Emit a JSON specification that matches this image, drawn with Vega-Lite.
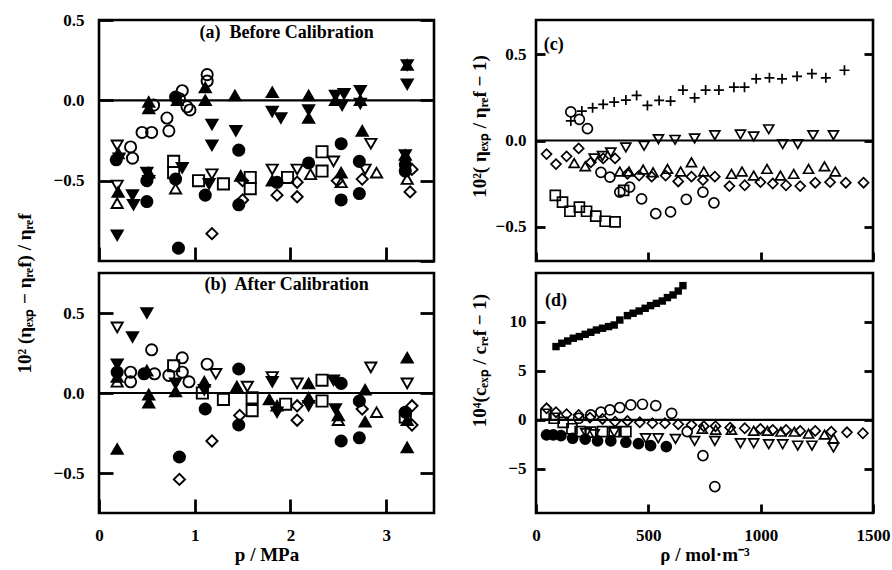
{
  "$schema": "https://vega.github.io/schema/vega-lite/v6.json",
  "background": "white",
  "padding": {"left": 13, "top": 9, "right": 5, "bottom": 5},
  "bounds": "flush",
  "columns": 2,
  "spacing": {"row": 12, "column": 102},
  "config": {
    "font": "Liberation Serif",
    "view": {"stroke": "black", "strokeWidth": 2.6},
    "axis": {
      "labelFont": "Liberation Serif", "labelFontWeight": "bold", "labelFontSize": 17, "labelColor": "black",
      "titleFont": "Liberation Serif", "titleFontWeight": "bold", "titleFontSize": 19, "titleColor": "black",
      "ticks": true, "tickColor": "black", "tickWidth": 2.8, "domain": false, "grid": false, "labelFlush": false
    },
    "text": {"font": "Liberation Serif", "fontWeight": "bold", "color": "black"}
  },
  "datasets": {
    "pts": [
      {"g":"a","x":0.19,"y":-0.28,"s":"od"},{"g":"a","x":0.2,"y":-0.33,"s":"fu"},{"g":"a","x":0.18,"y":-0.37,"s":"fc"},{"g":"a","x":0.21,"y":-0.36,"s":"fd"},
      {"g":"a","x":0.19,"y":-0.53,"s":"od"},{"g":"a","x":0.2,"y":-0.57,"s":"fu"},{"g":"a","x":0.19,"y":-0.64,"s":"ou"},{"g":"a","x":0.19,"y":-0.84,"s":"fd"},
      {"g":"a","x":0.33,"y":-0.29,"s":"oc"},{"g":"a","x":0.35,"y":-0.36,"s":"oc"},{"g":"a","x":0.35,"y":-0.59,"s":"fd"},{"g":"a","x":0.36,"y":-0.65,"s":"fd"},
      {"g":"a","x":0.45,"y":-0.2,"s":"oc"},{"g":"a","x":0.55,"y":-0.2,"s":"oc"},{"g":"a","x":0.52,"y":-0.01,"s":"fu"},{"g":"a","x":0.52,"y":-0.05,"s":"fu"},
      {"g":"a","x":0.57,"y":-0.03,"s":"oc"},{"g":"a","x":0.5,"y":-0.45,"s":"fd"},{"g":"a","x":0.52,"y":-0.45,"s":"fu"},{"g":"a","x":0.52,"y":-0.5,"s":"fd"},
      {"g":"a","x":0.5,"y":-0.5,"s":"fc"},{"g":"a","x":0.5,"y":-0.63,"s":"fc"},
      {"g":"a","x":0.71,"y":-0.11,"s":"oc"},{"g":"a","x":0.73,"y":-0.19,"s":"oc"},{"g":"a","x":0.78,"y":-0.38,"s":"os"},{"g":"a","x":0.78,"y":-0.45,"s":"os"},
      {"g":"a","x":0.87,"y":-0.42,"s":"fd"},{"g":"a","x":0.8,"y":-0.49,"s":"fc"},{"g":"a","x":0.8,"y":-0.55,"s":"ou"},{"g":"a","x":0.83,"y":-0.92,"s":"fc"},
      {"g":"a","x":0.87,"y":0.06,"s":"oc"},{"g":"a","x":0.84,"y":0.01,"s":"oc"},{"g":"a","x":0.82,"y":0.0,"s":"fu"},{"g":"a","x":0.8,"y":0.02,"s":"fc"},
      {"g":"a","x":0.92,"y":-0.04,"s":"oc"},{"g":"a","x":0.95,"y":-0.06,"s":"oc"},
      {"g":"a","x":1.04,"y":-0.5,"s":"os"},{"g":"a","x":1.18,"y":-0.46,"s":"od"},{"g":"a","x":1.11,"y":-0.59,"s":"fc"},{"g":"a","x":1.3,"y":-0.52,"s":"os"},
      {"g":"a","x":1.18,"y":-0.15,"s":"fd"},{"g":"a","x":1.18,"y":-0.28,"s":"fd"},{"g":"a","x":1.11,"y":0.0,"s":"fu"},{"g":"a","x":1.11,"y":0.08,"s":"fu"},
      {"g":"a","x":1.13,"y":0.16,"s":"oc"},{"g":"a","x":1.13,"y":0.12,"s":"oc"},{"g":"a","x":1.18,"y":-0.83,"s":"odm"},{"g":"a","x":1.15,"y":-0.52,"s":"fd"},
      {"g":"a","x":1.42,"y":0.03,"s":"fu"},{"g":"a","x":1.43,"y":-0.19,"s":"fd"},{"g":"a","x":1.46,"y":-0.31,"s":"fc"},{"g":"a","x":1.46,"y":-0.65,"s":"fc"},
      {"g":"a","x":1.5,"y":-0.62,"s":"odm"},{"g":"a","x":1.58,"y":-0.48,"s":"os"},{"g":"a","x":1.58,"y":-0.55,"s":"os"},{"g":"a","x":1.5,"y":-0.5,"s":"odm"},
      {"g":"a","x":1.48,"y":-0.47,"s":"fu"},
      {"g":"a","x":1.81,"y":0.05,"s":"fu"},{"g":"a","x":1.81,"y":-0.07,"s":"fd"},{"g":"a","x":1.9,"y":-0.11,"s":"fd"},{"g":"a","x":1.81,"y":-0.43,"s":"od"},
      {"g":"a","x":1.81,"y":-0.5,"s":"fu"},{"g":"a","x":1.86,"y":-0.59,"s":"odm"},{"g":"a","x":1.86,"y":-0.51,"s":"fc"},{"g":"a","x":1.97,"y":-0.48,"s":"os"},
      {"g":"a","x":2.07,"y":-0.43,"s":"od"},{"g":"a","x":2.07,"y":-0.51,"s":"odm"},{"g":"a","x":2.07,"y":-0.6,"s":"odm"},{"g":"a","x":2.19,"y":0.03,"s":"fu"},
      {"g":"a","x":2.19,"y":-0.06,"s":"fd"},{"g":"a","x":2.19,"y":-0.11,"s":"fu"},{"g":"a","x":2.19,"y":-0.39,"s":"fc"},{"g":"a","x":2.21,"y":-0.46,"s":"ou"},
      {"g":"a","x":2.33,"y":-0.32,"s":"os"},{"g":"a","x":2.33,"y":-0.44,"s":"os"},{"g":"a","x":2.45,"y":-0.38,"s":"od"},
      {"g":"a","x":2.47,"y":0.03,"s":"fd"},{"g":"a","x":2.56,"y":0.04,"s":"fd"},{"g":"a","x":2.47,"y":0.0,"s":"fu"},{"g":"a","x":2.54,"y":-0.03,"s":"fd"},
      {"g":"a","x":2.53,"y":-0.27,"s":"fc"},{"g":"a","x":2.53,"y":-0.45,"s":"fu"},{"g":"a","x":2.53,"y":-0.51,"s":"ou"},{"g":"a","x":2.49,"y":-0.5,"s":"odm"},
      {"g":"a","x":2.53,"y":-0.62,"s":"fc"},
      {"g":"a","x":2.73,"y":0.06,"s":"fd"},{"g":"a","x":2.73,"y":0.0,"s":"fu"},{"g":"a","x":2.73,"y":-0.02,"s":"fd"},{"g":"a","x":2.75,"y":-0.19,"s":"fu"},
      {"g":"a","x":2.84,"y":-0.27,"s":"od"},{"g":"a","x":2.72,"y":-0.38,"s":"fc"},{"g":"a","x":2.78,"y":-0.43,"s":"od"},{"g":"a","x":2.9,"y":-0.45,"s":"ou"},
      {"g":"a","x":2.75,"y":-0.49,"s":"odm"},{"g":"a","x":2.72,"y":-0.58,"s":"fc"},
      {"g":"a","x":3.22,"y":0.22,"s":"fu"},{"g":"a","x":3.22,"y":0.22,"s":"fd"},{"g":"a","x":3.22,"y":0.1,"s":"fd"},{"g":"a","x":3.2,"y":-0.34,"s":"fu"},
      {"g":"a","x":3.2,"y":-0.34,"s":"fd"},{"g":"a","x":3.2,"y":-0.4,"s":"fc"},{"g":"a","x":3.2,"y":-0.44,"s":"fc"},{"g":"a","x":3.22,"y":-0.49,"s":"ou"},
      {"g":"a","x":3.25,"y":-0.57,"s":"odm"},{"g":"a","x":3.27,"y":-0.43,"s":"odm"},

      {"g":"b","x":0.19,"y":0.41,"s":"od"},{"g":"b","x":0.35,"y":0.35,"s":"fd"},{"g":"b","x":0.5,"y":0.5,"s":"fd"},{"g":"b","x":0.55,"y":0.27,"s":"oc"},
      {"g":"b","x":0.19,"y":0.18,"s":"fd"},{"g":"b","x":0.19,"y":0.13,"s":"fc"},{"g":"b","x":0.19,"y":0.1,"s":"fu"},{"g":"b","x":0.19,"y":0.07,"s":"ou"},
      {"g":"b","x":0.33,"y":0.13,"s":"oc"},{"g":"b","x":0.33,"y":0.07,"s":"oc"},{"g":"b","x":0.19,"y":-0.35,"s":"fu"},
      {"g":"b","x":0.47,"y":0.12,"s":"fc"},{"g":"b","x":0.5,"y":0.14,"s":"fu"},{"g":"b","x":0.58,"y":0.12,"s":"oc"},{"g":"b","x":0.52,"y":-0.01,"s":"fu"},
      {"g":"b","x":0.52,"y":-0.06,"s":"fu"},
      {"g":"b","x":0.73,"y":0.11,"s":"oc"},{"g":"b","x":0.78,"y":0.17,"s":"os"},{"g":"b","x":0.87,"y":0.22,"s":"oc"},{"g":"b","x":0.87,"y":0.13,"s":"oc"},
      {"g":"b","x":0.94,"y":0.07,"s":"oc"},{"g":"b","x":0.8,"y":0.06,"s":"fd"},{"g":"b","x":0.8,"y":0.01,"s":"fu"},{"g":"b","x":0.84,"y":-0.4,"s":"fc"},
      {"g":"b","x":0.84,"y":-0.54,"s":"odm"},
      {"g":"b","x":1.13,"y":0.18,"s":"oc"},{"g":"b","x":1.22,"y":0.12,"s":"od"},{"g":"b","x":1.1,"y":0.07,"s":"fu"},{"g":"b","x":1.1,"y":0.02,"s":"fd"},
      {"g":"b","x":1.3,"y":-0.04,"s":"os"},{"g":"b","x":1.08,"y":0.0,"s":"os"},{"g":"b","x":1.11,"y":-0.1,"s":"fc"},{"g":"b","x":1.18,"y":-0.3,"s":"odm"},
      {"g":"b","x":1.46,"y":0.15,"s":"fc"},{"g":"b","x":1.44,"y":0.04,"s":"fu"},{"g":"b","x":1.55,"y":0.04,"s":"od"},{"g":"b","x":1.47,"y":-0.14,"s":"odm"},
      {"g":"b","x":1.46,"y":-0.2,"s":"fc"},{"g":"b","x":1.6,"y":-0.11,"s":"os"},{"g":"b","x":1.6,"y":-0.03,"s":"os"},
      {"g":"b","x":1.81,"y":0.1,"s":"od"},{"g":"b","x":1.81,"y":0.07,"s":"fd"},{"g":"b","x":1.78,"y":-0.04,"s":"fu"},{"g":"b","x":1.86,"y":-0.08,"s":"fu"},
      {"g":"b","x":1.86,"y":-0.12,"s":"fd"},{"g":"b","x":1.95,"y":-0.07,"s":"os"},
      {"g":"b","x":2.07,"y":0.06,"s":"od"},{"g":"b","x":2.07,"y":-0.08,"s":"odm"},{"g":"b","x":2.07,"y":-0.17,"s":"odm"},{"g":"b","x":2.19,"y":0.06,"s":"fu"},
      {"g":"b","x":2.19,"y":-0.03,"s":"fu"},{"g":"b","x":2.19,"y":-0.08,"s":"fd"},{"g":"b","x":2.33,"y":0.08,"s":"os"},{"g":"b","x":2.33,"y":-0.05,"s":"os"},
      {"g":"b","x":2.45,"y":0.08,"s":"fd"},{"g":"b","x":2.53,"y":0.06,"s":"fc"},{"g":"b","x":2.47,"y":-0.1,"s":"fd"},{"g":"b","x":2.5,"y":-0.14,"s":"fu"},
      {"g":"b","x":2.5,"y":-0.17,"s":"ou"},{"g":"b","x":2.53,"y":-0.3,"s":"fc"},
      {"g":"b","x":2.72,"y":-0.28,"s":"fc"},{"g":"b","x":2.84,"y":0.16,"s":"od"},{"g":"b","x":2.78,"y":0.02,"s":"fu"},{"g":"b","x":2.72,"y":-0.05,"s":"fc"},
      {"g":"b","x":2.78,"y":-0.18,"s":"fu"},{"g":"b","x":2.9,"y":-0.12,"s":"ou"},{"g":"b","x":2.75,"y":-0.1,"s":"odm"},
      {"g":"b","x":3.22,"y":0.22,"s":"fu"},{"g":"b","x":3.22,"y":0.06,"s":"od"},{"g":"b","x":3.27,"y":-0.08,"s":"odm"},{"g":"b","x":3.2,"y":-0.12,"s":"fc"},
      {"g":"b","x":3.2,"y":-0.15,"s":"os"},{"g":"b","x":3.27,"y":-0.2,"s":"odm"},{"g":"b","x":3.22,"y":-0.17,"s":"fu"},{"g":"b","x":3.22,"y":-0.34,"s":"fu"},

      {"g":"c","x":155,"y":0.114,"s":"pl"},{"g":"c","x":204,"y":0.171,"s":"pl"},{"g":"c","x":252,"y":0.19,"s":"pl"},{"g":"c","x":299,"y":0.21,"s":"pl"},
      {"g":"c","x":348,"y":0.223,"s":"pl"},{"g":"c","x":400,"y":0.235,"s":"pl"},{"g":"c","x":448,"y":0.262,"s":"pl"},{"g":"c","x":496,"y":0.204,"s":"pl"},
      {"g":"c","x":548,"y":0.233,"s":"pl"},{"g":"c","x":599,"y":0.229,"s":"pl"},{"g":"c","x":654,"y":0.293,"s":"pl"},{"g":"c","x":706,"y":0.248,"s":"pl"},
      {"g":"c","x":755,"y":0.293,"s":"pl"},{"g":"c","x":814,"y":0.293,"s":"pl"},{"g":"c","x":881,"y":0.31,"s":"pl"},{"g":"c","x":928,"y":0.31,"s":"pl"},
      {"g":"c","x":980,"y":0.358,"s":"pl"},{"g":"c","x":1039,"y":0.364,"s":"pl"},{"g":"c","x":1095,"y":0.358,"s":"pl"},{"g":"c","x":1162,"y":0.373,"s":"pl"},
      {"g":"c","x":1228,"y":0.388,"s":"pl"},{"g":"c","x":1290,"y":0.364,"s":"pl"},{"g":"c","x":1373,"y":0.408,"s":"pl"},
      {"g":"c","x":155,"y":0.166,"s":"oc"},{"g":"c","x":193,"y":0.123,"s":"oc"},{"g":"c","x":229,"y":0.069,"s":"oc"},{"g":"c","x":289,"y":-0.185,"s":"oc"},
      {"g":"c","x":329,"y":-0.213,"s":"oc"},{"g":"c","x":373,"y":-0.3,"s":"oc"},{"g":"c","x":417,"y":-0.271,"s":"oc"},{"g":"c","x":470,"y":-0.339,"s":"oc"},
      {"g":"c","x":533,"y":-0.425,"s":"oc"},{"g":"c","x":599,"y":-0.415,"s":"oc"},{"g":"c","x":669,"y":-0.342,"s":"oc"},{"g":"c","x":743,"y":-0.3,"s":"oc"},
      {"g":"c","x":792,"y":-0.362,"s":"oc"},
      {"g":"c","x":86,"y":-0.319,"s":"os"},{"g":"c","x":118,"y":-0.358,"s":"os"},{"g":"c","x":151,"y":-0.411,"s":"os"},{"g":"c","x":193,"y":-0.387,"s":"os"},
      {"g":"c","x":225,"y":-0.411,"s":"os"},{"g":"c","x":266,"y":-0.439,"s":"os"},{"g":"c","x":308,"y":-0.469,"s":"os"},{"g":"c","x":352,"y":-0.473,"s":"os"},
      {"g":"c","x":390,"y":-0.29,"s":"os"},
      {"g":"c","x":259,"y":-0.104,"s":"od"},{"g":"c","x":296,"y":-0.09,"s":"od"},{"g":"c","x":333,"y":-0.069,"s":"od"},{"g":"c","x":400,"y":-0.04,"s":"od"},
      {"g":"c","x":481,"y":-0.031,"s":"od"},{"g":"c","x":545,"y":0.008,"s":"od"},{"g":"c","x":619,"y":0.004,"s":"od"},{"g":"c","x":706,"y":0.012,"s":"od"},
      {"g":"c","x":796,"y":0.031,"s":"od"},{"g":"c","x":910,"y":0.035,"s":"od"},{"g":"c","x":969,"y":0.023,"s":"od"},{"g":"c","x":1036,"y":0.065,"s":"od"},
      {"g":"c","x":1098,"y":-0.021,"s":"od"},{"g":"c","x":1165,"y":-0.021,"s":"od"},{"g":"c","x":1233,"y":0.031,"s":"od"},{"g":"c","x":1324,"y":0.031,"s":"od"},
      {"g":"c","x":170,"y":-0.131,"s":"ou"},{"g":"c","x":219,"y":-0.15,"s":"ou"},{"g":"c","x":373,"y":-0.18,"s":"ou"},{"g":"c","x":414,"y":-0.18,"s":"ou"},
      {"g":"c","x":477,"y":-0.169,"s":"ou"},{"g":"c","x":521,"y":-0.185,"s":"ou"},{"g":"c","x":585,"y":-0.165,"s":"ou"},{"g":"c","x":644,"y":-0.18,"s":"ou"},
      {"g":"c","x":692,"y":-0.127,"s":"ou"},{"g":"c","x":747,"y":-0.18,"s":"ou"},{"g":"c","x":870,"y":-0.194,"s":"ou"},{"g":"c","x":917,"y":-0.18,"s":"ou"},
      {"g":"c","x":969,"y":-0.204,"s":"ou"},{"g":"c","x":1028,"y":-0.165,"s":"ou"},{"g":"c","x":1088,"y":-0.204,"s":"ou"},{"g":"c","x":1147,"y":-0.194,"s":"ou"},
      {"g":"c","x":1213,"y":-0.165,"s":"ou"},{"g":"c","x":1284,"y":-0.15,"s":"ou"},{"g":"c","x":1332,"y":-0.18,"s":"ou"},
      {"g":"c","x":47,"y":-0.079,"s":"odm"},{"g":"c","x":89,"y":-0.137,"s":"odm"},{"g":"c","x":136,"y":-0.092,"s":"odm"},{"g":"c","x":190,"y":-0.046,"s":"odm"},
      {"g":"c","x":244,"y":-0.127,"s":"odm"},{"g":"c","x":299,"y":-0.104,"s":"odm"},{"g":"c","x":352,"y":-0.104,"s":"odm"},{"g":"c","x":407,"y":-0.194,"s":"odm"},
      {"g":"c","x":459,"y":-0.204,"s":"odm"},{"g":"c","x":515,"y":-0.21,"s":"odm"},{"g":"c","x":577,"y":-0.204,"s":"odm"},{"g":"c","x":633,"y":-0.238,"s":"odm"},
      {"g":"c","x":692,"y":-0.21,"s":"odm"},{"g":"c","x":743,"y":-0.23,"s":"odm"},{"g":"c","x":796,"y":-0.21,"s":"odm"},{"g":"c","x":861,"y":-0.265,"s":"odm"},
      {"g":"c","x":929,"y":-0.26,"s":"odm"},{"g":"c","x":999,"y":-0.242,"s":"odm"},{"g":"c","x":1054,"y":-0.25,"s":"odm"},{"g":"c","x":1113,"y":-0.26,"s":"odm"},
      {"g":"c","x":1176,"y":-0.265,"s":"odm"},{"g":"c","x":1243,"y":-0.245,"s":"odm"},{"g":"c","x":1309,"y":-0.242,"s":"odm"},{"g":"c","x":1379,"y":-0.245,"s":"odm"},
      {"g":"c","x":1458,"y":-0.245,"s":"odm"},

      {"g":"d","x":89,"y":7.49,"s":"fs"},{"g":"d","x":115,"y":7.83,"s":"fs"},{"g":"d","x":141,"y":8.06,"s":"fs"},{"g":"d","x":166,"y":8.34,"s":"fs"},
      {"g":"d","x":193,"y":8.51,"s":"fs"},{"g":"d","x":219,"y":8.74,"s":"fs"},{"g":"d","x":244,"y":8.95,"s":"fs"},{"g":"d","x":269,"y":9.18,"s":"fs"},
      {"g":"d","x":296,"y":9.36,"s":"fs"},{"g":"d","x":323,"y":9.53,"s":"fs"},{"g":"d","x":348,"y":9.69,"s":"fs"},{"g":"d","x":373,"y":10.2,"s":"fs"},
      {"g":"d","x":407,"y":10.65,"s":"fs"},{"g":"d","x":432,"y":10.89,"s":"fs"},{"g":"d","x":459,"y":11.12,"s":"fs"},{"g":"d","x":486,"y":11.4,"s":"fs"},
      {"g":"d","x":510,"y":11.67,"s":"fs"},{"g":"d","x":536,"y":11.9,"s":"fs"},{"g":"d","x":562,"y":12.14,"s":"fs"},{"g":"d","x":585,"y":12.49,"s":"fs"},
      {"g":"d","x":610,"y":12.76,"s":"fs"},{"g":"d","x":633,"y":13.16,"s":"fs"},{"g":"d","x":654,"y":13.71,"s":"fs"},
      {"g":"d","x":47,"y":-1.53,"s":"fc"},{"g":"d","x":77,"y":-1.53,"s":"fc"},{"g":"d","x":111,"y":-1.6,"s":"fc"},{"g":"d","x":163,"y":-1.87,"s":"fc"},
      {"g":"d","x":219,"y":-1.97,"s":"fc"},{"g":"d","x":274,"y":-2.14,"s":"fc"},{"g":"d","x":333,"y":-2.14,"s":"fc"},{"g":"d","x":400,"y":-2.28,"s":"fc"},
      {"g":"d","x":456,"y":-2.41,"s":"fc"},{"g":"d","x":510,"y":-2.62,"s":"fc"},{"g":"d","x":580,"y":-2.72,"s":"fc"},
      {"g":"d","x":190,"y":0.17,"s":"oc"},{"g":"d","x":244,"y":0.51,"s":"oc"},{"g":"d","x":289,"y":0.79,"s":"oc"},{"g":"d","x":329,"y":1.02,"s":"oc"},
      {"g":"d","x":373,"y":1.26,"s":"oc"},{"g":"d","x":422,"y":1.53,"s":"oc"},{"g":"d","x":474,"y":1.6,"s":"oc"},{"g":"d","x":533,"y":1.47,"s":"oc"},
      {"g":"d","x":604,"y":0.68,"s":"oc"},{"g":"d","x":673,"y":-1.19,"s":"oc"},{"g":"d","x":743,"y":-3.64,"s":"oc"},{"g":"d","x":796,"y":-6.8,"s":"oc"},
      {"g":"d","x":47,"y":1.19,"s":"odm"},{"g":"d","x":89,"y":0.79,"s":"odm"},{"g":"d","x":136,"y":0.58,"s":"odm"},{"g":"d","x":190,"y":0.51,"s":"odm"},
      {"g":"d","x":240,"y":0.24,"s":"odm"},{"g":"d","x":296,"y":0.1,"s":"odm"},{"g":"d","x":352,"y":-0.17,"s":"odm"},{"g":"d","x":407,"y":-0.1,"s":"odm"},
      {"g":"d","x":462,"y":-0.24,"s":"odm"},{"g":"d","x":518,"y":-0.34,"s":"odm"},{"g":"d","x":574,"y":-0.34,"s":"odm"},{"g":"d","x":633,"y":-0.44,"s":"odm"},
      {"g":"d","x":692,"y":-0.5,"s":"odm"},{"g":"d","x":747,"y":-0.64,"s":"odm"},{"g":"d","x":799,"y":-0.64,"s":"odm"},{"g":"d","x":864,"y":-0.78,"s":"odm"},
      {"g":"d","x":929,"y":-0.85,"s":"odm"},{"g":"d","x":999,"y":-0.92,"s":"odm"},{"g":"d","x":1054,"y":-1.02,"s":"odm"},{"g":"d","x":1113,"y":-1.02,"s":"odm"},
      {"g":"d","x":1176,"y":-1.12,"s":"odm"},{"g":"d","x":1243,"y":-1.12,"s":"odm"},{"g":"d","x":1314,"y":-1.19,"s":"odm"},{"g":"d","x":1384,"y":-1.26,"s":"odm"},
      {"g":"d","x":1455,"y":-1.36,"s":"odm"},
      {"g":"d","x":222,"y":-1.36,"s":"od"},{"g":"d","x":259,"y":-1.46,"s":"od"},{"g":"d","x":348,"y":-1.26,"s":"od"},{"g":"d","x":488,"y":-1.87,"s":"od"},
      {"g":"d","x":544,"y":-1.87,"s":"od"},{"g":"d","x":621,"y":-1.94,"s":"od"},{"g":"d","x":706,"y":-2.14,"s":"od"},{"g":"d","x":796,"y":-2.14,"s":"od"},
      {"g":"d","x":910,"y":-2.38,"s":"od"},{"g":"d","x":969,"y":-2.38,"s":"od"},{"g":"d","x":1036,"y":-2.48,"s":"od"},{"g":"d","x":1098,"y":-2.48,"s":"od"},
      {"g":"d","x":1165,"y":-2.62,"s":"od"},{"g":"d","x":1228,"y":-2.62,"s":"od"},{"g":"d","x":1324,"y":-2.82,"s":"od"},
      {"g":"d","x":44,"y":0.58,"s":"os"},{"g":"d","x":81,"y":0.17,"s":"os"},{"g":"d","x":121,"y":-0.24,"s":"os"},{"g":"d","x":160,"y":-0.9,"s":"os"},
      {"g":"d","x":197,"y":-1.19,"s":"os"},{"g":"d","x":244,"y":-1.25,"s":"os"},{"g":"d","x":296,"y":-1.2,"s":"os"},{"g":"d","x":348,"y":-1.2,"s":"os"},
      {"g":"d","x":400,"y":-1.2,"s":"os"},
      {"g":"d","x":740,"y":-0.9,"s":"ou"},{"g":"d","x":800,"y":-1.0,"s":"ou"},{"g":"d","x":870,"y":-1.0,"s":"ou"},{"g":"d","x":969,"y":-1.1,"s":"ou"},
      {"g":"d","x":1030,"y":-1.1,"s":"ou"},{"g":"d","x":1090,"y":-1.2,"s":"ou"},{"g":"d","x":1150,"y":-1.2,"s":"ou"},{"g":"d","x":1213,"y":-1.4,"s":"ou"},
      {"g":"d","x":1284,"y":-1.5,"s":"ou"},{"g":"d","x":1324,"y":-1.9,"s":"ou"}
    ]
  },
  "concat": [
    {
      "width": 335, "height": 241,
      "layer": [
        {
          "data": {"values": [{}]},
          "mark": {"type": "rule", "color": "black", "strokeWidth": 2.2},
          "encoding": {
            "y": {"datum": 0, "type": "quantitative", "scale": {"domain": [-1, 0.5], "nice": false, "zero": false},
                  "axis": {"orient": "right", "values": [-1, -0.5, 0, 0.5], "labels": false, "title": null, "offset": -14, "tickSize": 14}}
          }
        },
        {
          "data": {"name": "pts"},
          "transform": [{"filter": "datum.g == 'a'"}],
          "mark": {"type": "point", "filled": true, "opacity": 1, "size": 125, "strokeWidth": 1.9},
          "encoding": {
            "x": {"field": "x", "type": "quantitative", "scale": {"domain": [0, 3.5], "nice": false, "zero": false},
                  "axis": {"values": [0, 1, 2, 3], "labels": false, "title": null, "offset": -14, "tickSize": 14}},
            "y": {"field": "y", "type": "quantitative", "scale": {"domain": [-1, 0.5], "nice": false, "zero": false},
                  "axis": {"values": [-0.5, 0, 0.5], "format": ".1f", "offset": -14, "tickSize": 14, "labelPadding": 15,
                           "title": "10² (ηₑₓₚ − ηᵣₑf) / ηᵣₑf", "titleX": -89, "titleY": 273, "titleAngle": -90, "titleBaseline": "middle", "titleAlign": "center"}},
            "shape": {"field": "s", "type": "nominal", "legend": null,
                      "scale": {"domain": ["fc","oc","fu","ou","fd","od","os","odm","fs","pl"],
                                "range": ["circle","circle","triangle-up","triangle-up","triangle-down","triangle-down","square","diamond","square","M-1,0H1M0,-1V1"]}},
            "fill": {"field": "s", "type": "nominal", "legend": null,
                     "scale": {"domain": ["fc","oc","fu","ou","fd","od","os","odm","fs","pl"],
                               "range": ["black","transparent","black","transparent","black","transparent","transparent","transparent","black","transparent"]}},
            "stroke": {"value": "black"}
          }
        },
        {
          "data": {"values": [{}]},
          "mark": {"type": "text", "fontSize": 18, "align": "center", "baseline": "middle"},
          "encoding": {
            "x": {"datum": 1.96, "type": "quantitative"},
            "y": {"datum": 0.416, "type": "quantitative", "axis": null},
            "text": {"value": "(a)\u00a0 Before Calibration"}
          }
        }
      ],
      "resolve": {"axis": {"y": "independent"}}
    },
    {
      "width": 337, "height": 241,
      "layer": [
        {
          "data": {"values": [{}]},
          "mark": {"type": "rule", "color": "black", "strokeWidth": 2.2},
          "encoding": {
            "y": {"datum": 0, "type": "quantitative", "scale": {"domain": [-0.7, 0.7], "nice": false, "zero": false},
                  "axis": {"orient": "right", "values": [-0.5, 0, 0.5], "labels": false, "title": null, "offset": -9, "tickSize": 9}}
          }
        },
        {
          "data": {"name": "pts"},
          "transform": [{"filter": "datum.g == 'c'"}],
          "mark": {"type": "point", "filled": true, "opacity": 1, "size": 100, "strokeWidth": 1.7},
          "encoding": {
            "x": {"field": "x", "type": "quantitative", "scale": {"domain": [0, 1500], "nice": false, "zero": false},
                  "axis": {"values": [0, 500, 1000, 1500], "labels": false, "title": null, "offset": -9, "tickSize": 9}},
            "y": {"field": "y", "type": "quantitative", "scale": {"domain": [-0.7, 0.7], "nice": false, "zero": false},
                  "axis": {"values": [-0.5, 0, 0.5], "format": ".1f", "offset": -9, "tickSize": 9, "labelPadding": 10,
                           "title": "10²( ηₑₓₚ / ηᵣₑf − 1)", "titleX": -66, "titleY": 106, "titleAngle": -90, "titleBaseline": "middle", "titleAlign": "center"}},
            "shape": {"field": "s", "type": "nominal", "legend": null,
                      "scale": {"domain": ["fc","oc","fu","ou","fd","od","os","odm","fs","pl"],
                                "range": ["circle","circle","triangle-up","triangle-up","triangle-down","triangle-down","square","diamond","square","M-1,0H1M0,-1V1"]}},
            "fill": {"field": "s", "type": "nominal", "legend": null,
                     "scale": {"domain": ["fc","oc","fu","ou","fd","od","os","odm","fs","pl"],
                               "range": ["black","transparent","black","transparent","black","transparent","transparent","transparent","black","transparent"]}},
            "stroke": {"value": "black"}
          }
        },
        {
          "data": {"values": [{}]},
          "mark": {"type": "text", "fontSize": 18, "align": "left", "baseline": "middle"},
          "encoding": {
            "x": {"datum": 35, "type": "quantitative"},
            "y": {"datum": 0.556, "type": "quantitative", "axis": null},
            "text": {"value": "(c)"}
          }
        }
      ],
      "resolve": {"axis": {"y": "independent"}}
    },
    {
      "width": 335, "height": 240,
      "layer": [
        {
          "data": {"values": [{}]},
          "mark": {"type": "rule", "color": "black", "strokeWidth": 2.2},
          "encoding": {
            "y": {"datum": 0, "type": "quantitative", "scale": {"domain": [-0.75, 0.75], "nice": false, "zero": false},
                  "axis": {"orient": "right", "values": [-0.5, 0, 0.5], "labels": false, "title": null, "offset": -14, "tickSize": 14}}
          }
        },
        {
          "data": {"name": "pts"},
          "transform": [{"filter": "datum.g == 'b'"}],
          "mark": {"type": "point", "filled": true, "opacity": 1, "size": 125, "strokeWidth": 1.9},
          "encoding": {
            "x": {"field": "x", "type": "quantitative", "scale": {"domain": [0, 3.5], "nice": false, "zero": false},
                  "axis": {"values": [0, 1, 2, 3], "format": "d", "offset": -14, "tickSize": 14, "labelPadding": 14, "title": "p / MPa", "titlePadding": 2}},
            "y": {"field": "y", "type": "quantitative", "scale": {"domain": [-0.75, 0.75], "nice": false, "zero": false},
                  "axis": {"values": [-0.5, 0, 0.5], "format": ".1f", "offset": -14, "tickSize": 14, "labelPadding": 15, "title": null}},
            "shape": {"field": "s", "type": "nominal", "legend": null,
                      "scale": {"domain": ["fc","oc","fu","ou","fd","od","os","odm","fs","pl"],
                                "range": ["circle","circle","triangle-up","triangle-up","triangle-down","triangle-down","square","diamond","square","M-1,0H1M0,-1V1"]}},
            "fill": {"field": "s", "type": "nominal", "legend": null,
                     "scale": {"domain": ["fc","oc","fu","ou","fd","od","os","odm","fs","pl"],
                               "range": ["black","transparent","black","transparent","black","transparent","transparent","transparent","black","transparent"]}},
            "stroke": {"value": "black"}
          }
        },
        {
          "data": {"values": [{}]},
          "mark": {"type": "text", "fontSize": 18, "align": "center", "baseline": "middle"},
          "encoding": {
            "x": {"datum": 1.96, "type": "quantitative"},
            "y": {"datum": 0.675, "type": "quantitative", "axis": null},
            "text": {"value": "(b)\u00a0 After Calibration"}
          }
        }
      ],
      "resolve": {"axis": {"y": "independent"}}
    },
    {
      "width": 337, "height": 240,
      "layer": [
        {
          "data": {"values": [{}]},
          "mark": {"type": "rule", "color": "black", "strokeWidth": 2.2},
          "encoding": {
            "y": {"datum": 0, "type": "quantitative", "scale": {"domain": [-9.5, 15], "nice": false, "zero": false},
                  "axis": {"orient": "right", "values": [-5, 0, 5, 10], "labels": false, "title": null, "offset": -9, "tickSize": 9}}
          }
        },
        {
          "data": {"name": "pts"},
          "transform": [{"filter": "datum.g == 'd' && datum.s != 'fs'"}],
          "mark": {"type": "point", "filled": true, "opacity": 1, "size": 100, "strokeWidth": 1.7},
          "encoding": {
            "x": {"field": "x", "type": "quantitative", "scale": {"domain": [0, 1500], "nice": false, "zero": false},
                  "axis": {"values": [0, 500, 1000, 1500], "format": "d", "offset": -9, "tickSize": 9, "labelPadding": 14, "title": "ρ / mol·m⁻³", "titlePadding": 2}},
            "y": {"field": "y", "type": "quantitative", "scale": {"domain": [-9.5, 15], "nice": false, "zero": false},
                  "axis": {"values": [-5, 0, 5, 10], "format": "d", "offset": -9, "tickSize": 9, "labelPadding": 10,
                           "title": "10⁴(cₑₓₚ / cᵣₑf − 1)", "titleX": -66, "titleY": 87, "titleAngle": -90, "titleBaseline": "middle", "titleAlign": "center"}},
            "shape": {"field": "s", "type": "nominal", "legend": null,
                      "scale": {"domain": ["fc","oc","fu","ou","fd","od","os","odm","fs","pl"],
                                "range": ["circle","circle","triangle-up","triangle-up","triangle-down","triangle-down","square","diamond","square","M-1,0H1M0,-1V1"]}},
            "fill": {"field": "s", "type": "nominal", "legend": null,
                     "scale": {"domain": ["fc","oc","fu","ou","fd","od","os","odm","fs","pl"],
                               "range": ["black","transparent","black","transparent","black","transparent","transparent","transparent","black","transparent"]}},
            "stroke": {"value": "black"}
          }
        },
        {
          "data": {"name": "pts"},
          "transform": [{"filter": "datum.g == 'd' && datum.s == 'fs'"}],
          "mark": {"type": "point", "shape": "square", "filled": true, "opacity": 1, "size": 55, "strokeWidth": 1.2, "color": "black"},
          "encoding": {
            "x": {"field": "x", "type": "quantitative"},
            "y": {"field": "y", "type": "quantitative", "axis": null}
          }
        },
        {
          "data": {"values": [{}]},
          "mark": {"type": "text", "fontSize": 18, "align": "left", "baseline": "middle"},
          "encoding": {
            "x": {"datum": 40, "type": "quantitative"},
            "y": {"datum": 12.1, "type": "quantitative", "axis": null},
            "text": {"value": "(d)"}
          }
        }
      ],
      "resolve": {"axis": {"y": "independent"}}
    }
  ]
}
